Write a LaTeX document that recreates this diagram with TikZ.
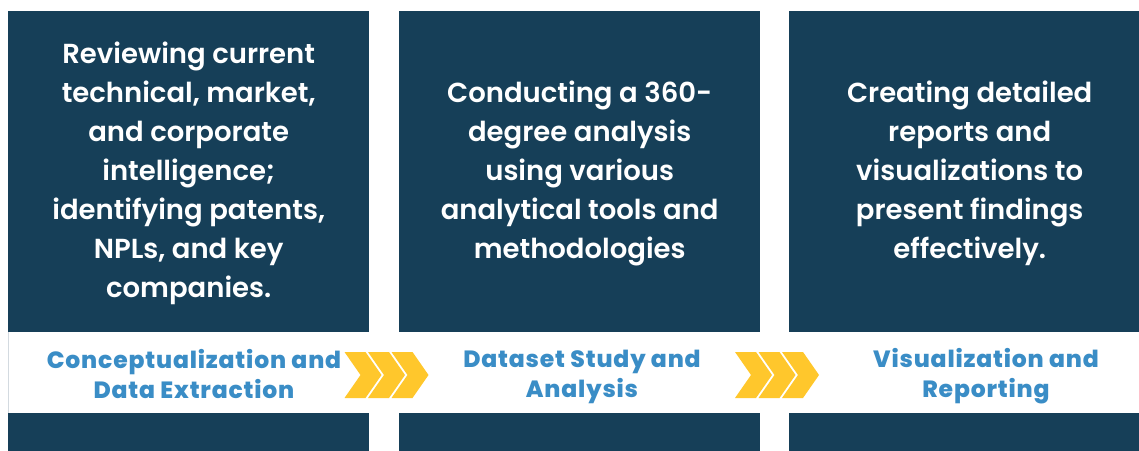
\documentclass[tikz,border=0pt]{standalone}
\usepackage{fontspec}
\setmainfont{Poppins}
\newfontfamily\bodyfont{Poppins SemiBold}
\newfontfamily\stagefont[LetterSpace=3.5]{Poppins ExtraBold}
\usepackage{tikz}
\usetikzlibrary{positioning,calc}
\definecolor{Navy}{HTML}{163F58}
\definecolor{StageBlue}{HTML}{3A8DC6}
\definecolor{Gold}{HTML}{FFC72C}
\definecolor{Rule}{HTML}{D3DAE0}
\tikzset{
  panel/.style={fill=Navy, anchor=north west, inner sep=0pt, minimum width=361pt, minimum height=321pt},
  lowpanel/.style={fill=Navy, anchor=north west, inner sep=0pt, minimum width=361pt, minimum height=50pt},
  desc/.style={text=white, align=center, font=\bodyfont\fontsize{27.5}{39}\selectfont},
  stage/.style={text=StageBlue, align=center, font=\stagefont\fontsize{23.5}{30}\selectfont},
}
% three arrow chevrons, #1 is the left middle point
\newcommand{\chevrons}[1]{%
  \foreach \k in {0,1,2}
    \fill[Gold] ($(#1)+(\k*23.5,23)$) -- ++(21,0) -- ++(16,-23) -- ++(-16,-23)
      -- ++(-21,0) -- ++(16,23) -- cycle;
}

\begin{document}
\begin{tikzpicture}[x=1pt, y=1pt]
\useasboundingbox (0,0) rectangle (1139,450);
\clip (0,0) rectangle (1139,450);
\fill[white] (0,0) rectangle (1139,450);

\node[panel] (box1) at (8,439) {};
\node[panel] (box2) at (399,439) {};
\node[panel] (box3) at (789,439) {};
\node[lowpanel] (base1) at (8,37) {};
\node[lowpanel] (base2) at (399,37) {};
\node[lowpanel] (base3) at (789,37) {};
\draw[Rule, line width=0.8pt] (box1.south west) -- (base1.north west);

\node[desc] (txt1) at ($(box1.center)+(0,-1.5)$) {Reviewing current\\technical, market,\\and corporate\\intelligence;\\identifying patents,\\NPLs, and key\\companies.};
\node[desc] (txt2) at ($(box2.center)+(0,-1.5)$) {Conducting a 360-\\degree analysis\\using various\\analytical tools and\\methodologies};
\node[desc] (txt3) at ($(box3.center)+(0,-1.5)$) {Creating detailed\\reports and\\visualizations to\\present findings\\effectively.};

\node[stage] (stage1) at (194,75.5) {Conceptualization and\\Data Extraction};
\node[stage] (stage2) at (582,73) {Dataset Study and\\Analysis};
\node[stage] (stage3) at (986,74) {Visualization and\\Reporting};

\coordinate (chevA) at (344.5,75);
\coordinate (chevB) at (735,75);
\chevrons{chevA}
\chevrons{chevB}
\end{tikzpicture}
\end{document}
